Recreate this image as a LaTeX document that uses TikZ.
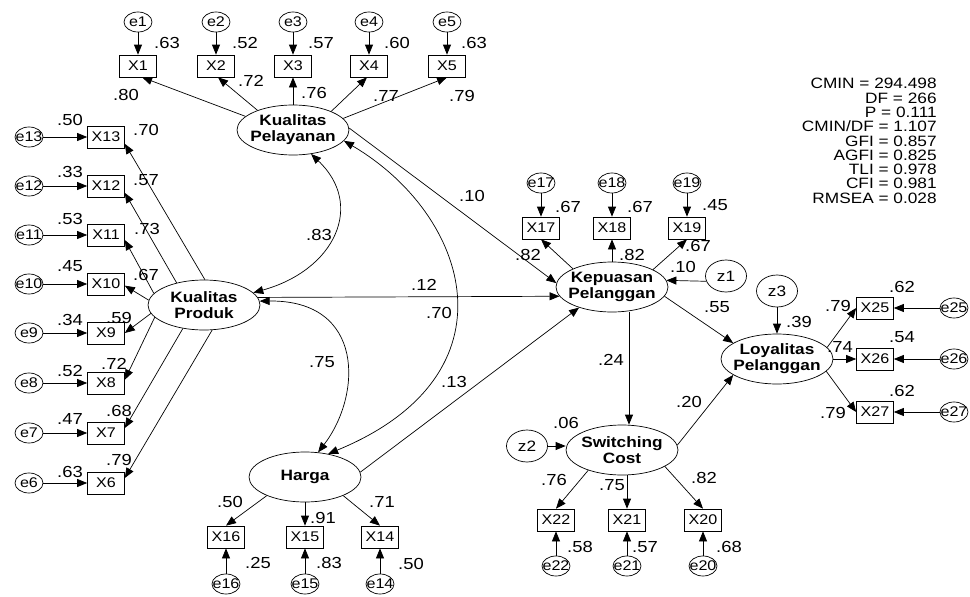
\documentclass[tikz,border=0pt]{standalone}
\usepackage{fontspec}
\setmainfont[FakeStretch=1.15]{Liberation Sans}
\usetikzlibrary{arrows.meta,shapes.geometric}
\begin{document}
\begin{tikzpicture}[x=1pt,y=-1pt,
  line width=0.7pt,
  lat/.style={draw, ellipse, minimum width=112pt, minimum height=50pt,
    inner xsep=-10pt, inner ysep=0pt, align=center,
    font=\bfseries\fontsize{15}{16}\selectfont},
  obs/.style={draw, rectangle, minimum width=37pt, minimum height=22pt,
    inner sep=0pt, font=\fontsize{14}{14}\selectfont},
  err/.style={draw, ellipse, minimum width=28pt, minimum height=20pt,
    inner xsep=-8pt, inner ysep=-4pt, font=\fontsize{14}{14}\selectfont},
  dst/.style={draw, ellipse, minimum width=41pt, minimum height=32pt,
    inner xsep=-4pt, inner ysep=-2pt, font=\fontsize{15}{15}\selectfont},
  arr/.style={-{Triangle[length=10pt,width=8pt]}},
  cov/.style={{Triangle[length=10pt,width=8pt]}-{Triangle[length=10pt,width=8pt]}},
  lab/.style={inner sep=0pt, font=\fontsize{16}{16}\selectfont},
]
\useasboundingbox (0,0) rectangle (970,597);

% latent variables
\node[lat] (pl) at (293,130) {Kualitas\\Pelayanan};
\node[lat] (pr) at (204,305) {Kualitas\\Produk};
\node[lat] (hg) at (305,477) {Harga};
\node[lat] (kp) at (612,287) {Kepuasan\\Pelanggan};
\node[lat] (sc) at (622,450) {Switching\\Cost};
\node[lat] (ly) at (777,359) {Loyalitas\\Pelanggan};

% disturbances
\node[dst] (z1) at (726,276) {z1};
\node[dst] (z2) at (527,446) {z2};
\node[dst] (z3) at (777,291) {z3};

% indicators of Kualitas Pelayanan
\foreach \i/\px in {1/138,2/216,3/293,4/369,5/447} {
  \node[obs] (x\i) at (\px,66) {X\i};
  \node[err] (e\i) at (\px,22) {e\i};
  \draw[arr] (e\i) -- (x\i);
}
% indicators of Kualitas Produk
\foreach \i/\py in {13/137,12/186,11/235,10/284,9/333,8/383,7/433,6/483} {
  \node[obs] (x\i) at (106,\py) {X\i};
  \node[err] (e\i) at (29,\py) {e\i};
  \draw[arr] (e\i) -- (x\i);
}
% indicators of Harga
\foreach \i/\px in {16/226,15/305,14/380} {
  \node[obs] (x\i) at (\px,537) {X\i};
  \node[err] (e\i) at (\px,584) {e\i};
  \draw[arr] (e\i) -- (x\i);
}
% indicators of Kepuasan Pelanggan
\foreach \i/\px in {17/541,18/612,19/687} {
  \node[obs] (x\i) at (\px,228) {X\i};
  \node[err] (e\i) at (\px,183) {e\i};
  \draw[arr] (e\i) -- (x\i);
}
% indicators of Switching Cost
\foreach \i/\px in {22/556,21/627,20/703} {
  \node[obs] (x\i) at (\px,520) {X\i};
  \node[err] (e\i) at (\px,566) {e\i};
  \draw[arr] (e\i) -- (x\i);
}
% indicators of Loyalitas Pelanggan
\foreach \i/\py in {25/308,26/359,27/412} {
  \node[obs] (x\i) at (875,\py) {X\i};
  \node[err] (e\i) at (954,\py) {e\i};
  \draw[arr] (e\i) -- (x\i);
}

% loadings
\draw[arr] (pl.164) -- (x1.-70);
\draw[arr] (pl.151) -- (x2.-80);
\draw[arr] (pl.north) -- (x3.south);
\draw[arr] (pl.26) -- (x4.-100);
\draw[arr] (pl.13) -- (x5.south);

\draw[arr] (pr.88) -- (x13.-20);
\draw[arr] (pr.141) -- (x12.-20);
\draw[arr] (pr.167) -- (x11.-15);
\draw[arr] (pr.175) -- (x10.-5);
\draw[arr] (pr.189) -- (x9.east);
\draw[arr] (pr.194) -- (x8.10);
\draw[arr] (pr.228) -- (x7.15);
\draw[arr] (pr.288) -- (x6.15);

\draw[arr] (hg.206) -- (x16.north);
\draw[arr] (hg.south) -- (x15.north);
\draw[arr] (hg.334) -- (x14.north);

\draw[arr] (kp.155) -- (x17.south);
\draw[arr] (kp.north) -- (x18.south);
\draw[arr] (kp.23) -- (x19.south);

\draw[arr] (sc.211) -- (x22.north);
\draw[arr] (sc.south -| x21.north) -- (x21.north);
\draw[arr] (sc.339) -- (x20.north);

\draw[arr] (ly.13) -- (x25.west);
\draw[arr] (ly.east) -- (x26.west);
\draw[arr] (ly.346) -- (x27.west);

% structural paths
\draw[arr] (pl.2) -- (kp.176);
\draw[arr] (pr.8) -- (kp.190);
\draw[arr] (hg.5) -- (kp.212);
\draw[arr] ([xshift=17pt]kp.south) -- ([xshift=7pt]sc.north);
\draw[arr] (kp.-10) -- (ly.160);
\draw[arr] (sc.5) -- (ly.200);
\draw[arr] (z1.195) -- (kp.7);
\draw[arr] (z2.east) -- (z2.east -| sc.west);
\draw[arr] (z3) -- (ly);

% covariances
\draw[cov] (pr.14) .. controls (335,270) and (365,205) .. (pl.-53);
\draw[cov] (pl.-12) .. controls (470,215) and (520,375) .. (hg.45);
\draw[cov] (pr.4) .. controls (365,300) and (362,395) .. (hg.62);

% estimates
\foreach \t/\px/\py in {
  .63/167/43, .52/245/43, .57/321/43, .60/397/43, .63/474/43,
  .80/126/95, .72/251/81, .76/314/93, .77/386/96, .79/462/96,
  .50/70/120, .70/146/130, .33/70/172, .57/146/180,
  .53/70/219, .73/147/229, .45/70/266, .67/146/275,
  .34/70/320, .59/119/318, .52/70/371, .72/114/364,
  .47/70/419, .68/119/411, .63/70/472, .79/119/460,
  .50/230/502, .91/323/518, .71/382/502, .25/258/563, .83/329/563, .50/411/564,
  .67/568/207, .67/640/207, .45/715/205, .82/528/255, .82/632/255, .67/698/246,
  .10/683/267, .55/717/307,
  .06/566/423, .24/611/360, .20/689/402, .76/554/480, .75/612/485, .82/704/478,
  .58/580/547, .57/645/547, .68/729/547,
  .39/799/322, .62/902/287, .54/902/337, .62/902/391, .79/838/306, .74/840/347, .79/833/413,
  .10/472/196, .83/319/235, .12/424/285, .70/439/313, .75/322/362, .13/454/382}
  \node[lab] at (\px,\py) {\t};

% fit statistics
\node[anchor=north east, inner sep=0pt, align=right, font=\fontsize{15}{14.3}\selectfont]
  (fit) at (937,78) {CMIN = 294.498\\DF = 266\\P = 0.111\\CMIN/DF = 1.107\\GFI = 0.857\\AGFI = 0.825\\TLI = 0.978\\CFI = 0.981\\RMSEA = 0.028};
\end{tikzpicture}
\end{document}
